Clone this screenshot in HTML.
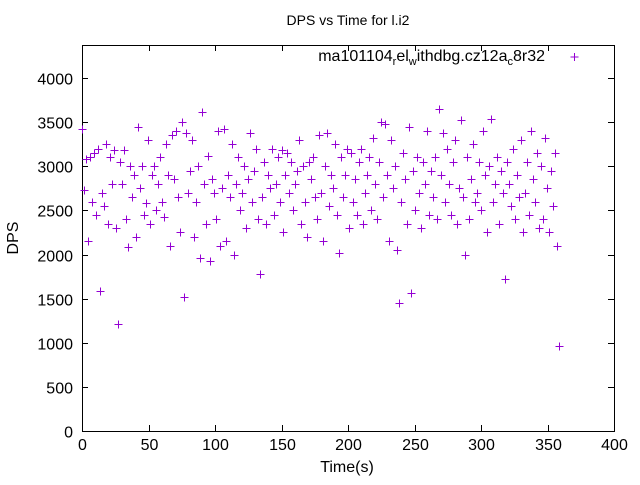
<!DOCTYPE html>
<html><head><meta charset="utf-8"><style>
body{margin:0;background:#fff}
svg text{font-family:"Liberation Sans",sans-serif;font-size:16px;fill:#000}
</style></head><body>
<svg id="chart" width="640" height="480" xmlns="http://www.w3.org/2000/svg">
<text x="348" y="25" text-anchor="middle" style="font-size:14px">DPS vs Time for l.i2</text>
<text transform="translate(18,238) rotate(-90)" text-anchor="middle">DPS</text>
<text x="347" y="472" text-anchor="middle">Time(s)</text>
<g id="axes"></g>
<g id="points"></g>
<g>
<text x="545" y="61" text-anchor="end">ma101104<tspan dy="4" style="font-size:11px">r</tspan><tspan dy="-4">el</tspan><tspan dy="4" style="font-size:11px">w</tspan><tspan dy="-4">ithdbg.cz12a</tspan><tspan dy="4" style="font-size:11px">c</tspan><tspan dy="-4">8r32</tspan></text>
<path d="M570.5 57h8M574.5 53v8" stroke="#9400d3" stroke-width="1"/>
</g>
</svg>
<script>
const xTicks=[0,50,100,150,200,250,300,350,400];
const yTicks=[0,500,1000,1500,2000,2500,3000,3500,4000];
const xStep=1.5;
const dps=[3420,2730,3080,2150,3100,2600,3150,2450,3200,1590,2700,2550,3250,2350,3100,2800,3180,2300,1210,3050,
2800,3180,2400,2080,3000,2650,2900,2200,3450,2750,3000,2450,2580,3300,2350,2900,3000,2500,2800,3100,
2600,2430,3250,2900,2100,3350,2850,3400,2650,2250,3500,1520,3380,2700,2950,3300,2200,2600,3000,1960,
3610,2800,2350,3120,1930,2850,2700,2400,3400,2100,2750,3420,2150,2900,2650,3250,2000,2800,3100,2500,
2700,3000,2300,2850,3380,2600,2950,3200,2400,1780,2650,3050,2350,2900,2750,3200,2450,2800,3100,2600,
3180,2250,2900,3150,2700,3050,2500,2800,2950,3300,2350,3000,2600,2200,3050,2850,3100,2650,2400,3350,
2700,2150,3000,3380,2550,2900,2750,3250,2450,2020,3100,2650,2900,3200,2300,3150,2600,2850,2450,3050,
3200,2350,2700,2900,3100,2500,3320,2800,2400,3050,3500,2650,3480,2900,2150,3300,2750,3000,2050,1450,
2600,3150,2850,2350,3450,1560,2950,2500,3100,2700,2300,3050,2800,3400,2450,2950,2650,3100,2400,3650,
2900,3380,2600,3200,2800,2450,3050,3300,2350,2750,3520,2650,2000,3100,2400,2850,3250,2600,2700,3050,
2500,3400,2900,2250,3000,3540,2600,2800,3100,2350,2950,2700,1720,3050,2800,2550,3200,2400,2900,2650,
3300,2250,2700,3050,2450,3400,2850,2600,3150,2300,3000,2400,3320,2750,2250,2950,2550,3150,2100,960];
const L=82,R=614,T=45,B=431;
const xs=v=>L+v*(R-L)/400;
const ys=v=>B-v*353/4000;
const NS="http://www.w3.org/2000/svg";
const ax=document.getElementById('axes');
function el(t,a,p){const e=document.createElementNS(NS,t);for(const k in a)e.setAttribute(k,a[k]);p.appendChild(e);return e;}
const fr=el('rect',{x:L+.5,y:T+.5,width:R-L,height:B-T,fill:'none',stroke:'#000','stroke-width':1},ax);


xTicks.forEach(v=>{const x=Math.round(xs(v))+.5;
const p=el('path',{d:`M${x} ${B}v-6M${x} ${T}v6`,stroke:'#000'},ax);


const t=el('text',{x:x,y:B+19,'text-anchor':'middle'},ax);t.textContent=v;

});
yTicks.forEach(v=>{const y=Math.round(ys(v))+.5;
const p=el('path',{d:`M${L} ${y}h6M${R} ${y}h-6`,stroke:'#000'},ax);


const t=el('text',{x:L-9,y:y+6,'text-anchor':'end'},ax);t.textContent=v;

});
const pg=document.getElementById('points');
dps.forEach((v,i)=>{const x=Math.round(xs(i*xStep))+.5,y=Math.round(ys(v))+.5;
const p=el('path',{d:`M${x-4} ${y}h8M${x} ${y-4}v8`,stroke:'#9400d3','stroke-width':1},pg);

});
</script>
</body></html>
